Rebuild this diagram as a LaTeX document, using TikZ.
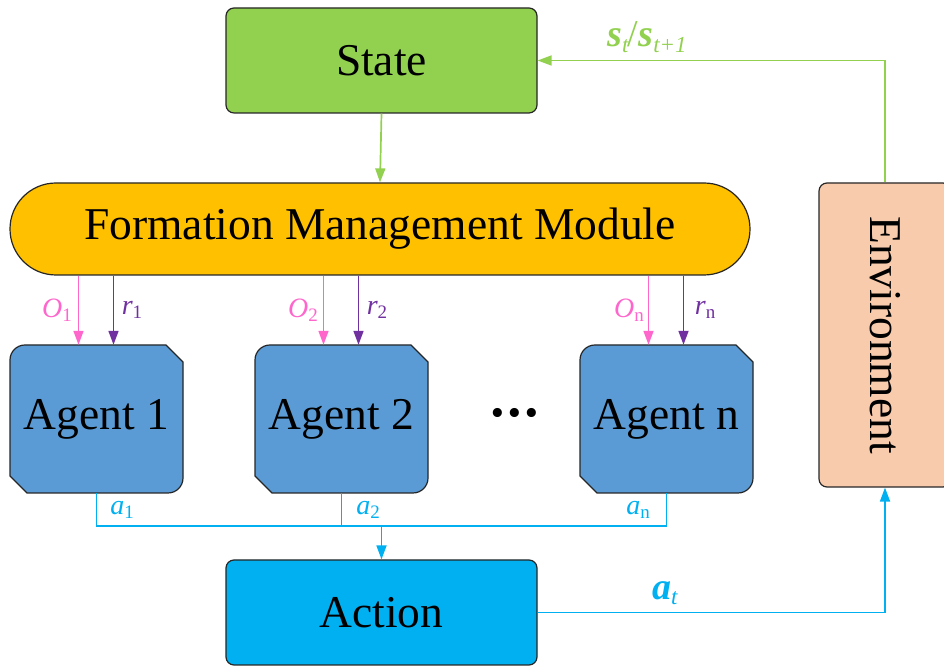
\documentclass[tikz,border=0pt]{standalone}
\usepackage{fontspec}
\setmainfont{Liberation Serif}
\usetikzlibrary{arrows.meta,calc}

\definecolor{stategreen}{HTML}{92D050}
\definecolor{fmmorange}{HTML}{FFC000}
\definecolor{envpeach}{HTML}{F8CBAD}
\definecolor{agentblue}{HTML}{5B9BD5}
\definecolor{actcyan}{HTML}{00B0F0}
\definecolor{obspink}{HTML}{FF66CC}
\definecolor{rewpurple}{HTML}{7030A0}
\definecolor{edgegray}{HTML}{262626}

\newcommand\diagbig{\fontsize{45.5}{48}\selectfont}
\newcommand\diaglbl{\fontsize{28}{30}\selectfont}
\newcommand\diagsub[1]{\raisebox{-0.3ex}{\fontsize{19}{20}\selectfont #1}}
\newcommand\diagsubb[1]{\raisebox{-0.3ex}{\fontsize{23}{24}\selectfont #1}}
\newcommand\diagfb{\fontsize{38}{40}\selectfont}

% agent block: rounded top-left / bottom-right, clipped top-right / bottom-left
\newcommand\agentnode[4]{%
  \begin{scope}[shift={(#2,#3)}]
    \filldraw[fill=agentblue,draw=edgegray,line width=1.2pt]
      (-71.5,74) -- (69.5,74) -- (86.5,57) -- (86.5,-59)
      arc[start angle=0,end angle=-90,radius=15] -- (-69.5,-74) -- (-86.5,-57)
      -- (-86.5,59) arc[start angle=180,end angle=90,radius=15] -- cycle;
  \end{scope}
  \node[agentslot] (#1) at (#2,#3) {#4};}

\begin{document}
\begin{tikzpicture}[x=1pt,y=1pt,
  box/.style={draw=edgegray, line width=1.2pt, rounded corners=8pt, inner sep=0pt, font=\diagbig},
  agentslot/.style={minimum width=173pt, minimum height=148pt, inner sep=0pt, font=\diagbig},
  link/.style={line width=1.7pt},
  arrowed/.style={-{Triangle[length=14pt,width=10pt]}},
  lbl/.style={inner sep=0pt, font=\diaglbl}]
\useasboundingbox (0,0) rectangle (944,668);

% main blocks
\node[box, fill=stategreen, minimum width=311pt, minimum height=105pt] (state) at (381.5,607.5) {State};
\node[box, fill=fmmorange, rounded corners=46pt, minimum width=740pt, minimum height=92pt] (fmm) at (380,439) {Formation Management Module};
\node[box, fill=envpeach, minimum width=304pt, minimum height=132pt, rotate=-90] (env) at (885,333) {Environment};
\node[box, fill=actcyan, minimum width=311pt, minimum height=105pt] (act) at (381.5,55.5) {Action};

\agentnode{ag1}{96.5}{249}{Agent 1}
\agentnode{ag2}{341.5}{249}{Agent 2}
\agentnode{agn}{666.5}{249}{Agent n}
\node[inner sep=0pt, font=\fontsize{56}{56}\selectfont\bfseries] (dots) at (515,248) {\textperiodcentered\kern-2pt\textperiodcentered\kern-2pt\textperiodcentered};

% state feedback loop
\draw[link, stategreen, arrowed] (state.south) -- (fmm.north);
\draw[link, stategreen, arrowed] (env.west) |- (state.east);
\node[lbl, stategreen, font=\diagfb] (slbl) at (647,631) {\textbf{\textit{s}}\diagsubb{\textit{t}}\kern-1pt/\textbf{\textit{s}}\diagsubb{\textit{t+1}}};

% observations and rewards to each agent
\foreach \ag in {ag1,ag2,agn}{
  \draw[link, obspink, arrowed] ([xshift=-18pt]\ag.north |- fmm.south) -- ([xshift=-18pt]\ag.north);
  \draw[link, rewpurple, arrowed] ([xshift=17pt]\ag.north |- fmm.south) -- ([xshift=17pt]\ag.north);
}
\node[lbl, obspink] (o1) at (57,358) {\textit{O}\diagsub{1}};
\node[lbl, rewpurple] (r1) at (132,358) {\textit{r}\diagsub{1}};
\node[lbl, obspink] (o2) at (303,358) {\textit{O}\diagsub{2}};
\node[lbl, rewpurple] (r2) at (377,358) {\textit{r}\diagsub{2}};
\node[lbl, obspink] (on) at (629,358) {\textit{O}\diagsub{n}};
\node[lbl, rewpurple] (rn) at (705,358) {\textit{r}\diagsub{n}};

% actions collected on a bus
\coordinate (bus) at (381.5,142);
\draw[link, actcyan] (ag1.south) |- (agn.south |- bus) -- (agn.south);
\draw[link, actcyan] (ag2.south) -- (ag2.south |- bus);
\draw[link, actcyan, arrowed] (act.north |- bus) -- (act.north);
\node[lbl, actcyan] (a1) at (122,158) {\textit{a}\diagsub{1}};
\node[lbl, actcyan] (a2) at (368,158) {\textit{a}\diagsub{2}};
\node[lbl, actcyan] (an) at (638,158) {\textit{a}\diagsub{n}};

% joint action to the environment
\draw[link, actcyan, arrowed] (act.east) -| (env.east);
\node[lbl, actcyan, font=\diagfb] (atlbl) at (665,75) {\textbf{\textit{a}}\diagsubb{\textit{t}}};
\end{tikzpicture}
\end{document}
